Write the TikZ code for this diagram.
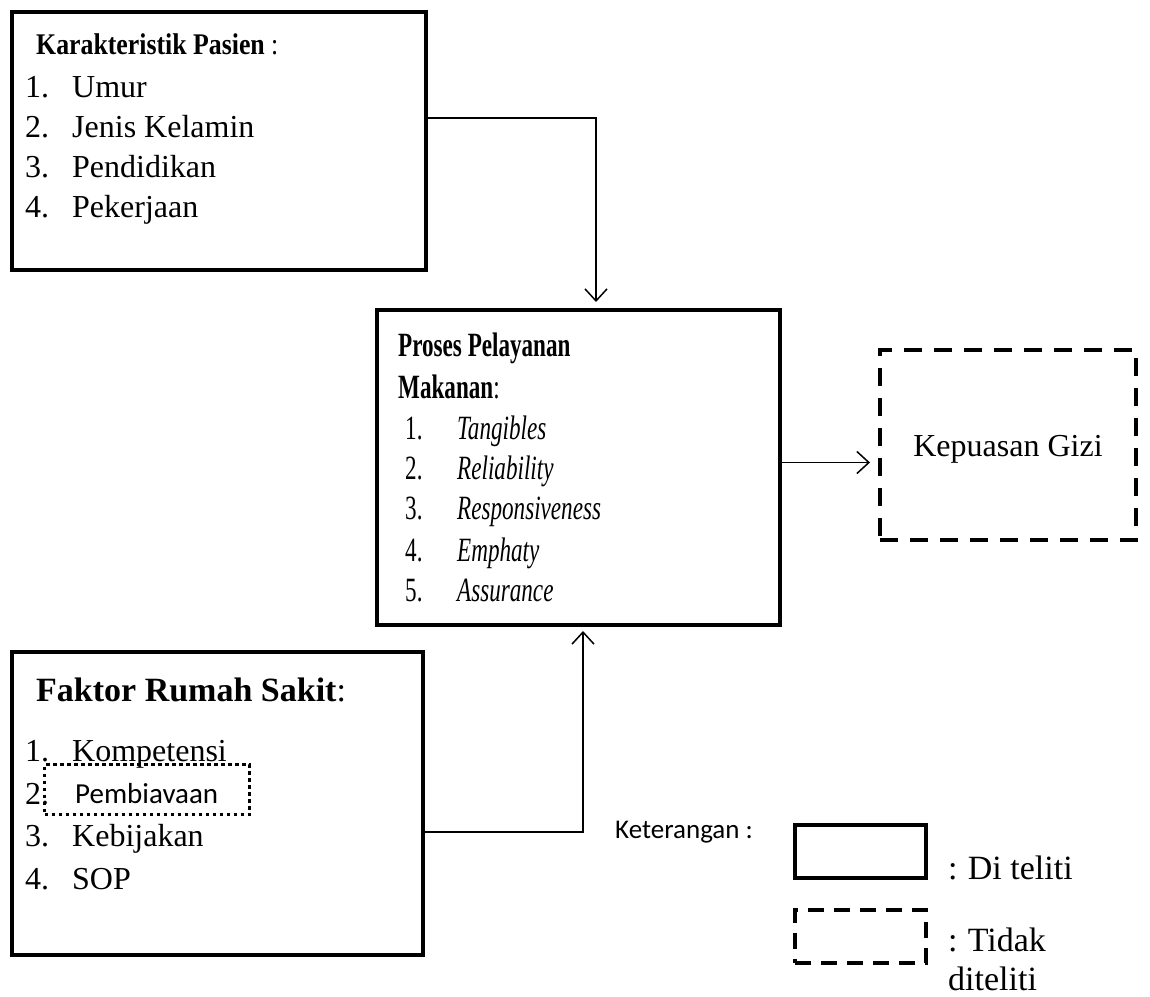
\documentclass[tikz,border=0pt]{standalone}
\usepackage{fontspec}
\setmainfont{Liberation Serif}
\newfontfamily\condfont[FakeStretch=0.68]{Liberation Serif}
\newfontfamily\semicond[FakeStretch=0.86]{Liberation Serif}
\newfontfamily\calfont{Carlito}
\usetikzlibrary{arrows.meta}
\begin{document}
\begin{tikzpicture}[x=1pt,y=-1pt,
  solidbox/.style={draw,line width=4pt,rectangle,inner sep=0pt},
  dashbox/.style={draw,line width=4pt,rectangle,inner sep=0pt,dash pattern=on 18pt off 12pt},
  dotbox/.style={draw,line width=3.5pt,rectangle,inner sep=0pt,dash pattern=on 3.5pt off 3.5pt},
  conn/.style={line width=1.5pt,-{Straight Barb[length=12pt,width=22pt,line width=1.5pt]}},
  txt/.style={inner sep=0pt,anchor=base west,font=\fontsize{32}{38}\selectfont},
  ctxt/.style={inner sep=0pt,anchor=base west,font=\fontsize{34}{40}\selectfont\condfont},
  ltxt/.style={inner sep=0pt,anchor=base west,font=\fontsize{34}{40}\selectfont},
  caltxt/.style={inner sep=0pt,anchor=base west,font=\fontsize{27}{32}\selectfont\calfont}]
\useasboundingbox (0,0) rectangle (1150,996);
% boxes
\node[solidbox,minimum width=414pt,minimum height=258pt] (k) at (219,141) {};
\node[solidbox,minimum width=403pt,minimum height=315pt] (p) at (578.5,467.5) {};
\node[dashbox,minimum width=256pt,minimum height=190pt] (g) at (1008,445) {};
\node[solidbox,minimum width=411pt,minimum height=303pt] (f) at (217.5,803.5) {};
\node[dotbox,minimum width=205pt,minimum height=50pt] (d) at (147,789.5) {};
\node[solidbox,minimum width=131pt,minimum height=53pt] (ls) at (860.5,851.5) {};
\node[dashbox,minimum width=131pt,minimum height=53pt,dash pattern=on 16pt off 10pt] (ld) at (860.5,936.5) {};
% top box text
\node[txt,font=\fontsize{30}{36}\selectfont\semicond] (kh) at (36,54) {\textbf{Karakteristik Pasien} :};
\node[txt] (kn1) at (25,97) {1.};  \node[txt] (kt1) at (72,97) {Umur};
\node[txt] (kn2) at (25,137) {2.}; \node[txt] (kt2) at (72,137) {Jenis Kelamin};
\node[txt] (kn3) at (25,177) {3.}; \node[txt] (kt3) at (72,177) {Pendidikan};
\node[txt] (kn4) at (25,217) {4.}; \node[txt] (kt4) at (72,217) {Pekerjaan};
% middle box text
\node[ctxt] (ph1) at (398,356) {\textbf{Proses Pelayanan}};
\node[ctxt] (ph2) at (398,398) {\textbf{Makanan}:};
\node[ctxt] (pn1) at (405,439) {1.}; \node[ctxt] (pt1) at (457,439) {\textit{Tangibles}};
\node[ctxt] (pn2) at (405,479) {2.}; \node[ctxt] (pt2) at (457,479) {\textit{Reliability}};
\node[ctxt] (pn3) at (405,519) {3.}; \node[ctxt] (pt3) at (457,519) {\textit{Responsiveness}};
\node[ctxt] (pn4) at (405,561) {4.}; \node[ctxt] (pt4) at (457,561) {\textit{Emphaty}};
\node[ctxt] (pn5) at (405,601) {5.}; \node[ctxt] (pt5) at (457,601) {\textit{Assurance}};
% right box text
\node[txt,anchor=base] (gt) at (1008,456) {Kepuasan Gizi};
% bottom box text
\node[txt,font=\fontsize{34}{40}\selectfont] (fh) at (36,701) {\textbf{Faktor Rumah Sakit}:};
\node[txt] (fn1) at (25,761) {1.}; \node[txt] (ft1) at (72,761) {Kompetensi};
\node[txt] (fn2) at (25,804) {2.}; \node[caltxt,font=\fontsize{29}{34}\selectfont\calfont] (ft2) at (75,803) {Pembiavaan};
\node[txt] (fn3) at (25,846) {3.}; \node[txt] (ft3) at (72,846) {Kebijakan};
\node[txt] (fn4) at (25,889) {4.}; \node[txt] (ft4) at (72,889) {SOP};
% legend
\node[caltxt] (ket) at (615,838) {Keterangan :};
\node[ltxt] (l1) at (948,879) {:\hspace{0.3em}Di teliti};
\node[ltxt] (l2) at (948,951) {:\hspace{0.3em}Tidak};
\node[ltxt] (l3) at (948,990) {diteliti};
% connectors
\coordinate (c1) at (596,118);
\coordinate (c2) at (583,832);
\draw[conn,shorten >=6pt] (c1 -| k.east) -- (c1) -- (c1 |- p.north);
\draw[conn,shorten >=4pt] (c2 -| f.east) -- (c2) -- (c2 |- p.south);
\draw[conn,shorten >=8pt] ([yshift=5pt]p.east) -- ([yshift=5pt]p.east -| g.west);
\end{tikzpicture}
\end{document}
